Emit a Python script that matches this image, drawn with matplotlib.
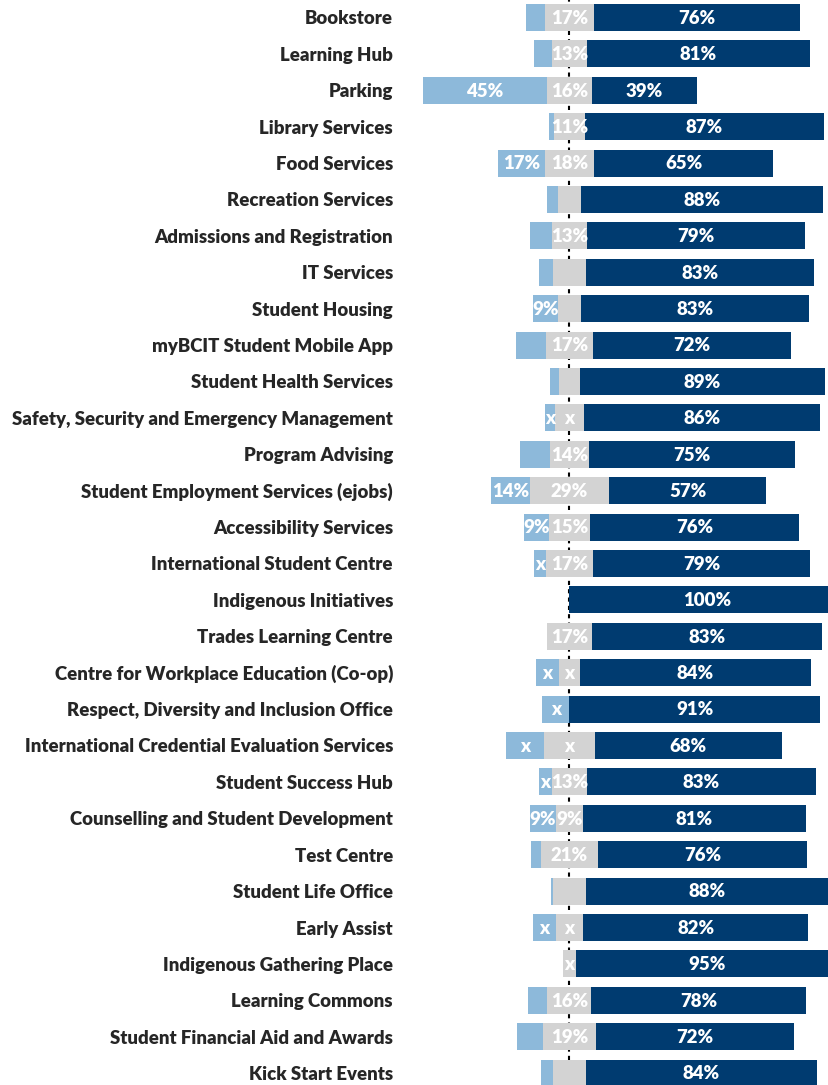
import matplotlib
matplotlib.use("Agg")
import matplotlib.pyplot as plt

categories = [
    "Bookstore", "Learning Hub", "Parking", "Library Services", "Food Services",
    "Recreation Services", "Admissions and Registration", "IT Services",
    "Student Housing", "myBCIT Student Mobile App", "Student Health Services",
    "Safety, Security and Emergency Management", "Program Advising",
    "Student Employment Services (ejobs)", "Accessibility Services",
    "International Student Centre", "Indigenous Initiatives",
    "Trades Learning Centre", "Centre for Workplace Education (Co-op)",
    "Respect, Diversity and Inclusion Office",
    "International Credential Evaluation Services", "Student Success Hub",
    "Counselling and Student Development", "Test Centre", "Student Life Office",
    "Early Assist", "Indigenous Gathering Place", "Learning Commons",
    "Student Financial Aid and Awards", "Kick Start Events",
]
dissatisfied = [7, 6.5, 45, 2, 17, 4, 8, 5, 9, 11, 3.5, 3.5, 11, 14, 9, 4.5, 0, 0,
                8.5, 10, 14, 4.5, 9.5, 3.5, 0.6, 8.5, 0, 7, 9.5, 4.5]
neutral = [17.5, 12.7, 16.4, 11, 18, 8.5, 13, 12, 8.5, 17, 7.5, 10.5, 14, 29, 15,
           17, 0, 16.5, 7.6, 0, 18.5, 13, 9.8, 21, 12, 9.8, 5, 16, 19, 12]
satisfied = [75.2, 81, 38.2, 87, 65, 88, 79, 83, 83, 72, 89, 86, 75, 57, 76, 79,
             100, 83.5, 84, 91, 68, 83, 81, 76, 88, 82, 95, 78, 72, 84]
dis_labels = ["", "", "45%", "", "17%", "", "", "", "9%", "", "", "x", "", "14%",
              "9%", "x", "", "", "x", "x", "x", "x", "9%", "", "", "x", "", "", "", ""]
neu_labels = ["17%", "13%", "16%", "11%", "18%", "", "13%", "", "", "17%", "", "x",
              "14%", "29%", "15%", "17%", "", "17%", "x", "", "x", "13%", "9%",
              "21%", "", "x", "x", "16%", "19%", ""]
sat_labels = ["76%", "81%", "39%", "87%", "65%", "88%", "79%", "83%", "83%", "72%",
              "89%", "86%", "75%", "57%", "76%", "79%", "100%", "83%", "84%", "91%",
              "68%", "83%", "81%", "76%", "88%", "82%", "95%", "78%", "72%", "84%"]

C_DIS = "#8DB9DA"
C_NEU = "#D3D3D3"
C_SAT = "#003B70"

W, H = 829, 1085
fig = plt.figure(figsize=(W / 100, H / 100), dpi=100)
ax_left_px = 410
ax = fig.add_axes([ax_left_px / W, 0, 1 - ax_left_px / W, 1])

scale = 2.75      # px per percent
center_px = 569.5
ax.set_xlim((ax_left_px - center_px) / scale, (W - center_px) / scale)
pitch = 36.4
top_px = 17.5
ax.set_ylim((H - top_px) / pitch, -top_px / pitch)

FONT = "Lato"
FS = 13.4
WEIGHT = "heavy"

y = list(range(len(categories)))
h = 0.74
for i in y:
    d, n, s = dissatisfied[i], neutral[i], satisfied[i]
    ax.barh(i, d, left=-n / 2 - d, height=h, color=C_DIS, zorder=2)
    ax.barh(i, n, left=-n / 2, height=h, color=C_NEU, zorder=2)
    ax.barh(i, s, left=n / 2, height=h, color=C_SAT, zorder=2)
    for lab, cx in ((dis_labels[i], -n / 2 - d / 2), (neu_labels[i], 0),
                    (sat_labels[i], n / 2 + s / 2)):
        if lab:
            ax.text(cx, i + 0.02, lab, ha="center", va="center", color="white",
                    fontsize=FS, fontweight=WEIGHT, family=FONT, zorder=3,
                    clip_on=True)

ax.axvline(0, color="black", linestyle=(0, (2, 2)), linewidth=1.5, zorder=1)

ax.set_yticks(y)
ax.set_yticklabels(categories, fontsize=FS, fontweight=WEIGHT, family=FONT,
                   color="#262626")
ax.tick_params(axis="y", length=0, pad=(ax_left_px - 393) * 0.72)
ax.set_xticks([])
for sp in ax.spines.values():
    sp.set_visible(False)

fig.savefig("out.png", dpi=100)
